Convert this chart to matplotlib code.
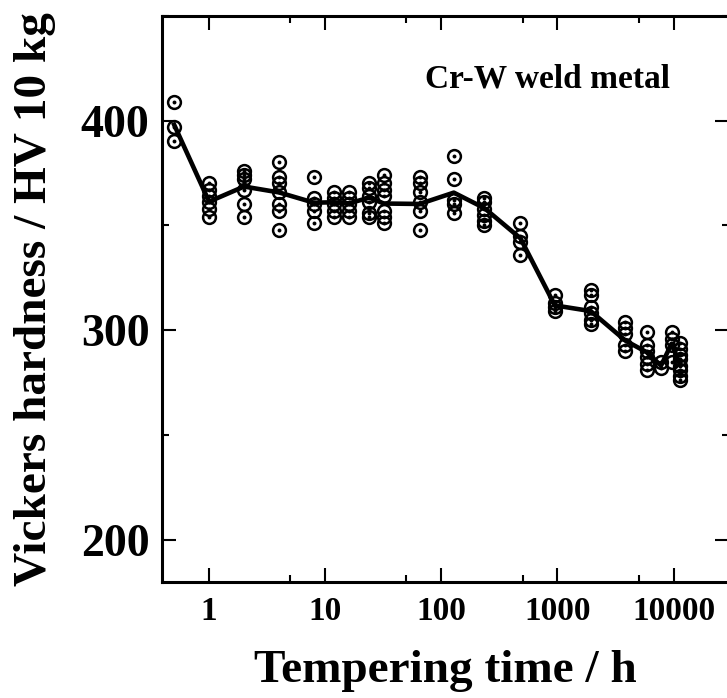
import matplotlib
matplotlib.use("Agg")
import matplotlib.pyplot as plt
from matplotlib.ticker import FixedLocator, NullFormatter, MultipleLocator

# ---- data ----
times = [0.5, 1, 2, 4, 8, 12, 16, 24, 32, 65, 128, 235, 480, 950, 1930, 3850, 5850, 7800, 9600, 11300]
hardness = [
    [409, 397, 390],
    [370, 367, 364, 361, 358, 354],
    [376, 374, 372, 367, 360, 354],
    [380, 373, 370, 366, 360, 357, 348],
    [373, 363, 360, 357, 351],
    [366, 363, 360, 357, 354],
    [366, 363, 360, 357, 354],
    [370, 368, 364, 361, 356, 354],
    [374, 370, 367, 364, 357, 354, 351],
    [373, 370, 366, 361, 357, 348],
    [383, 372, 362, 360, 356],
    [363, 361, 358, 355, 352, 350],
    [351, 345, 342, 336],
    [317, 313, 311, 309],
    [319, 317, 311, 308, 305, 303],
    [304, 301, 298, 293, 290],
    [299, 293, 290, 287, 284, 281],
    [285, 282],
    [299, 296, 293, 285],
    [294, 291, 288, 286, 283, 281, 278, 276],
]
mean_hardness = [398, 361.3, 368.5, 365.7, 360.8, 361, 360.5, 363.2, 360.4, 360.2,
                 365.6, 358.2, 343.8, 311.8, 309.1, 295, 289.5, 283.1, 293.5, 284]
x_ticks = [1, 10, 100, 1000, 10000]
x_tick_labels = ["1", "10", "100", "1000", "10000"]
x_minor = [5, 50, 500, 5000]
y_ticks = [200, 300, 400]

font = "Liberation Serif"
plt.rcParams["font.family"] = [font, "DejaVu Serif"]
plt.rcParams["font.weight"] = "bold"

fig = plt.figure(figsize=(7.27, 6.98), dpi=100)
ax = fig.add_axes([162 / 727, 1 - 581.7 / 698, (729 - 162) / 727, (581.7 - 15.7) / 698])

px = []
py = []
for t, vals in zip(times, hardness):
    for v in vals:
        px.append(t)
        py.append(v)

ax.plot(times, mean_hardness, color="black", lw=3.3, zorder=2)
ax.plot(px, py, linestyle="none", marker="o", ms=9.2, mfc="none", mec="black", mew=1.8, zorder=3)
ax.plot(px, py, linestyle="none", marker="o", ms=2.8, mfc="black", mec="black", mew=0, zorder=4)

ax.set_xscale("log")
ax.set_xlim(0.393, 30000)
ax.set_ylim(180, 450)

ax.xaxis.set_major_locator(FixedLocator(x_ticks))
ax.set_xticklabels(x_tick_labels)
ax.xaxis.set_minor_locator(FixedLocator(x_minor))
ax.xaxis.set_minor_formatter(NullFormatter())
ax.yaxis.set_major_locator(FixedLocator(y_ticks))
ax.yaxis.set_minor_locator(MultipleLocator(50))

ax.tick_params(which="both", direction="in", top=True, right=True, width=1.5, colors="black")
ax.tick_params(which="major", length=10)
ax.tick_params(which="minor", length=5)
ax.tick_params(axis="x", which="major", labelsize=24, pad=10)
ax.tick_params(axis="y", which="major", labelsize=33, pad=9)
for lab in ax.get_xticklabels() + ax.get_yticklabels():
    lab.set_fontweight("bold")

for s in ax.spines.values():
    s.set_linewidth(2.2)

ax.set_xlabel("Tempering time / h", fontsize=34, fontweight="bold", labelpad=17)
ax.set_ylabel("Vickers hardness / HV 10 kg", fontsize=34, fontweight="bold", labelpad=18)

ax.text((424 - 162) / 565, (581.7 - 87) / 566, "Cr-W weld metal", transform=ax.transAxes,
        fontsize=24, fontweight="bold", ha="left", va="baseline")

fig.savefig("out.png", dpi=100)
